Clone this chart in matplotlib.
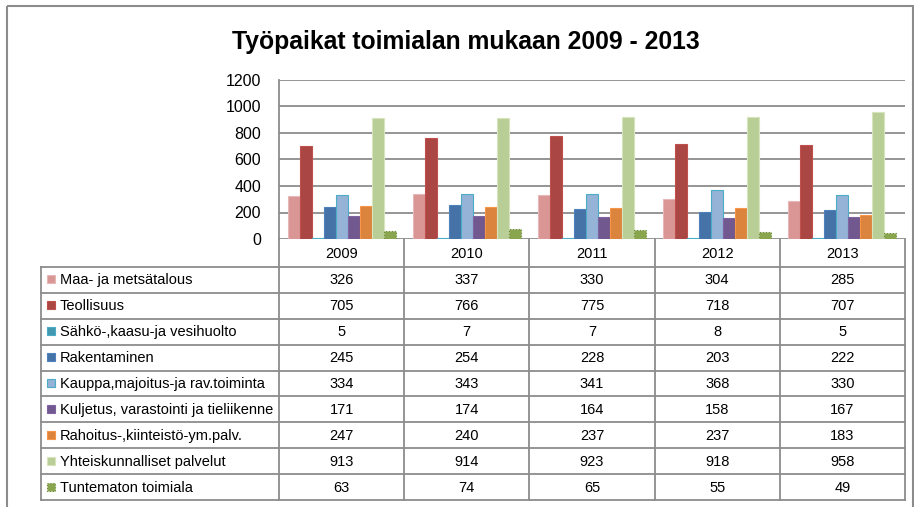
import numpy as np
import matplotlib.pyplot as plt
from matplotlib.patches import Rectangle

years = ["2009", "2010", "2011", "2012", "2013"]
series = ["Maa- ja metsätalous", "Teollisuus", "Sähkö-,kaasu-ja vesihuolto",
          "Rakentaminen", "Kauppa,majoitus-ja rav.toiminta",
          "Kuljetus, varastointi ja tieliikenne", "Rahoitus-,kiinteistö-ym.palv.",
          "Yhteiskunnalliset palvelut", "Tuntematon toimiala"]
maa = [326, 337, 330, 304, 285]
teollisuus = [705, 766, 775, 718, 707]
sahko = [5, 7, 7, 8, 5]
rakentaminen = [245, 254, 228, 203, 222]
kauppa = [334, 343, 341, 368, 330]
kuljetus = [171, 174, 164, 158, 167]
rahoitus = [247, 240, 237, 237, 183]
yhteis = [913, 914, 923, 918, 958]
tuntematon = [63, 74, 65, 55, 49]
values = [maa, teollisuus, sahko, rakentaminen, kauppa, kuljetus, rahoitus, yhteis, tuntematon]

faces = ["#D99694", "#AA4643", "#4198AF", "#4572A7", "#95B3D7",
         "#71588F", "#DB843D", "#B9CD96", "#89A54E"]
edges = ["#E6B9B8", "#C0504D", "#4BACC6", "#4F81BD", "#4BACC6",
         "#8064A2", "#F79646", "#D7E4BD", "#6E8A3A"]

W, H = 914, 507
fig = plt.figure(figsize=(W / 100, H / 100), dpi=100)
plt.rcParams['font.family'] = ['Liberation Sans', 'DejaVu Sans']
grid_c = "#8C8C8C"

# pixel-space overlay for border, title and data table
ov = fig.add_axes([0, 0, 1, 1])
ov.set_xlim(0, W)
ov.set_ylim(H, 0)
ov.axis("off")
ov.add_patch(Rectangle((7, 6), 906, 510, fill=False, ec="#8C8C8C", lw=1.5, clip_on=False))
ov.text(466, 42, "Työpaikat toimialan mukaan 2009 - 2013", ha="center", va="center",
        fontsize=17.8, fontweight="bold")

x0, x1, top, bot = 279, 905, 80, 239
ax = fig.add_axes([x0 / W, 1 - bot / H, (x1 - x0) / W, (bot - top) / H])
n = len(series)
bw = 0.096
x = np.arange(len(years))
for i, (vals, fc, ec) in enumerate(zip(values, faces, edges)):
    pos = x + (i - (n - 1) / 2) * bw
    ls = ":" if i == n - 1 else "-"
    ax.bar(pos, vals, width=bw, color=fc, edgecolor=ec, linewidth=0.8, linestyle=ls, zorder=3)
ax.set_xlim(-0.5, len(years) - 0.5)
ax.set_ylim(0, 1200)
ax.set_yticks(range(0, 1201, 200))
ax.yaxis.grid(True, color=grid_c, lw=1.3, zorder=0)
ax.set_xticks([])
ax.tick_params(axis="y", length=0, pad=13, labelsize=11.5)
for s in ["top", "right", "bottom"]:
    ax.spines[s].set_visible(False)
ax.spines["left"].set_color(grid_c)
ax.spines["left"].set_linewidth(1.3)
ax.set_facecolor("none")

# data table
col_w = (x1 - x0) / len(years)
hdr_bot = 267
row_h = (500 - hdr_bot) / n
lc = grid_c
ov.plot([x0, x0], [bot, 500], color=lc, lw=1.3)
ov.plot([x1, x1], [bot, 500], color=lc, lw=1.3)
ov.plot([41, 41], [hdr_bot, 500], color=lc, lw=1.3)
for k in range(1, len(years)):
    ov.plot([x0 + k * col_w] * 2, [bot, 500], color=lc, lw=1.3)
for r in range(n + 1):
    y = hdr_bot + r * row_h
    ov.plot([41, x1], [y, y], color=lc, lw=1.3)
for k, yr in enumerate(years):
    ov.text(x0 + (k + 0.5) * col_w, (bot + hdr_bot) / 2 + 1, yr, ha="center", va="center", fontsize=10.5)
for r, (name, vals) in enumerate(zip(series, values)):
    yc = hdr_bot + (r + 0.5) * row_h
    ls = ":" if r == n - 1 else "-"
    ov.add_patch(Rectangle((47, yc - 4.5), 8, 8, fc=faces[r], ec=edges[r], lw=0.8, ls=ls))
    ov.text(60, yc + 0.5, name, ha="left", va="center", fontsize=10.5)
    for k, v in enumerate(vals):
        ov.text(x0 + (k + 0.5) * col_w, yc + 0.5, str(v), ha="center", va="center", fontsize=10.5)

fig.savefig("out.png", dpi=100)
